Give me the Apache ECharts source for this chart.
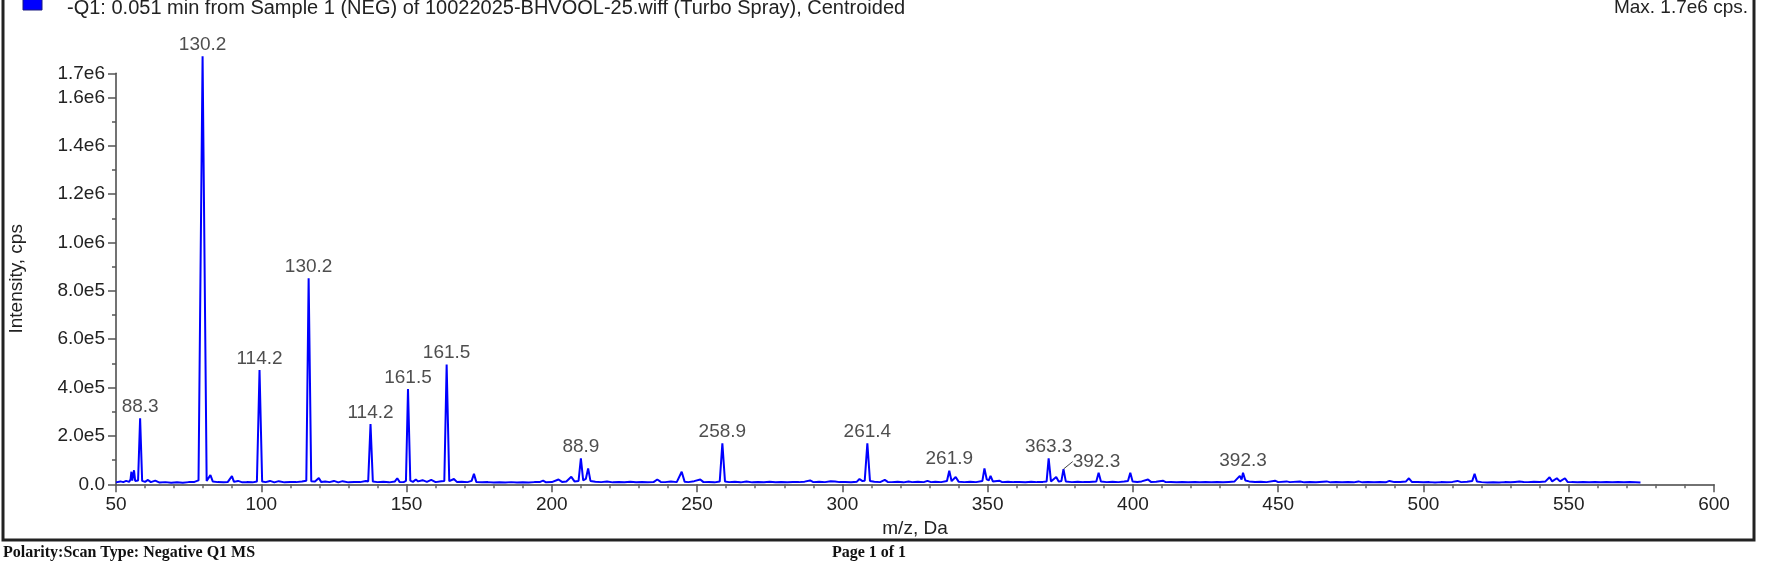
<!DOCTYPE html>
<html><head><meta charset="utf-8">
<script src="https://cdn.jsdelivr.net/npm/echarts@6/dist/echarts.min.js"></script>
<style>html,body{margin:0;padding:0;background:#fff}#c{width:1792px;height:576px}</style>
</head><body><div id="c"></div>
<script>
const titleText = '-Q1: 0.051 min from Sample 1 (NEG) of 10022025-BHVOOL-25.wiff (Turbo Spray), Centroided';
const maxText = 'Max. 1.7e6 cps.';
const xAxisName = 'm/z, Da';
const yAxisName = 'Intensity, cps';
const footerLeft = 'Polarity:Scan Type: Negative Q1 MS';
const footerCenter = 'Page 1 of 1';

const xMin = 50, xMax = 600, xMajor = 50;
const yMin = 0, yMax = 1.7e6, yMajor = 2e5, yMinor = 1e5;

// centroided spectrum: [m/z, intensity cps]
const spectrum = [
[50.0,8000],[51.5,12000],[52.5,9000],[53.5,14000],[54.5,10000],[55.0,20000],[55.3,52000],[55.6,15000],
[56.0,18000],[56.2,58000],[56.6,14000],[57.6,16000],[58.3,273000],[59.0,14000],[60.0,10000],[61.0,18000],
[62.0,9000],[63.5,15000],[65.0,7000],[67.0,9000],[69.0,6000],[71.0,8000],[73.0,6000],[75.0,9000],
[77.0,10000],[78.4,16000],[79.8,1770000],[81.2,14000],[82.5,38000],[83.3,12000],[85.0,9000],[87.0,8000],
[88.5,10000],[89.9,34000],[90.6,10000],[92.0,14000],[93.5,8000],[95.0,9000],[97.0,8000],[98.5,12000],
[99.4,473000],[100.3,12000],[101.5,9000],[103.0,14000],[104.5,8000],[106.0,13000],[108.0,8000],[110.0,10000],
[112.0,9000],[114.0,12000],[115.5,15000],[116.3,852000],[117.2,13000],[118.5,12000],[119.8,26000],[120.6,10000],
[122.0,12000],[123.5,9000],[125.0,14000],[126.5,8000],[128.0,13000],[130.0,8000],[132.0,10000],[134.0,9000],
[136.0,14000],[136.8,12000],[137.6,249000],[138.4,12000],[140.0,9000],[142.0,11000],[144.0,8000],[146.0,12000],
[146.8,25000],[147.6,10000],[149.0,9000],[149.8,14000],[150.5,394000],[151.3,15000],[152.2,10000],[153.2,20000],
[154.0,12000],[155.5,17000],[157.0,10000],[158.5,18000],[160.0,9000],[162.0,13000],[163.0,14000],[163.8,495000],
[164.7,13000],[166.3,22000],[167.3,10000],[169.0,11000],[171.0,9000],[172.4,14000],[173.2,43000],[174.0,10000],
[176.0,8000],[178.0,9000],[180.0,7000],[182.0,8000],[184.0,7000],[186.0,9000],[188.0,7000],[190.0,8000],
[192.0,7000],[194.0,9000],[196.0,10000],[197.0,15000],[198.0,8000],[200.0,9000],[202.3,20000],[203.5,10000],
[205.0,12000],[206.7,31000],[207.8,12000],[209.2,14000],[210.0,107000],[210.8,16000],[211.7,22000],[212.5,66000],
[213.3,14000],[215.0,11000],[217.0,9000],[219.0,12000],[221.0,8000],[223.0,10000],[225.0,8000],[227.0,11000],
[229.0,8000],[231.0,10000],[233.0,8000],[235.0,9000],[236.3,20000],[237.5,10000],[239.0,9000],[241.0,12000],
[243.0,9000],[244.7,52000],[245.7,11000],[247.0,9000],[249.0,13000],[251.1,20000],[252.2,9000],[254.0,10000],
[256.0,8000],[257.8,12000],[258.7,170000],[259.6,12000],[261.0,9000],[263.0,11000],[265.0,8000],[267.0,12000],
[269.0,8000],[271.0,10000],[273.0,8000],[275.0,11000],[277.0,8000],[279.0,10000],[281.0,8000],[283.0,10000],
[285.0,9000],[287.0,11000],[288.9,16000],[290.0,9000],[292.0,11000],[294.0,9000],[296.0,13000],[296.5,16000],
[297.5,12000],[299.0,9000],[301.0,10000],[303.0,8000],[305.0,11000],[305.9,22000],[306.8,14000],[307.7,15000],
[308.6,170000],[309.5,14000],[311.0,11000],[313.0,9000],[314.6,18000],[315.6,10000],[317.0,9000],[319.0,11000],
[321.0,8000],[322.8,12000],[324.0,9000],[326.0,11000],[328.0,9000],[329.3,14000],[330.5,9000],[332.0,11000],
[334.0,9000],[336.0,14000],[336.8,56000],[337.6,13000],[339.0,30000],[340.0,11000],[342.0,9000],[344.0,11000],
[346.0,9000],[348.2,14000],[348.9,66000],[349.7,20000],[350.4,16000],[351.0,35000],[351.8,12000],[354.0,15000],
[355.0,9000],[357.0,11000],[359.0,9000],[361.0,10000],[363.0,8000],[365.0,11000],[367.0,9000],[369.0,10000],
[370.3,12000],[371.0,107000],[371.8,12000],[373.6,30000],[374.5,11000],[375.4,14000],[376.1,63000],[376.9,12000],
[379.0,9000],[381.0,11000],[383.0,9000],[385.0,10000],[387.4,12000],[388.2,48000],[389.0,12000],[391.0,9000],
[393.0,11000],[395.0,9000],[397.0,12000],[398.3,14000],[399.1,48000],[399.9,12000],[401.5,10000],[403.0,12000],
[405.2,20000],[406.2,10000],[408.0,11000],[410.3,15000],[411.3,9000],[413.0,10000],[415.0,8000],[417.0,9000],
[419.0,8000],[421.3,10000],[423.0,8000],[425.0,9000],[427.0,8000],[429.0,10000],[431.0,8000],[433.0,10000],
[435.0,12000],[436.8,35000],[437.4,20000],[437.9,48000],[438.7,16000],[440.0,12000],[442.0,10000],[444.0,11000],
[446.0,9000],[448.9,15000],[450.0,9000],[452.9,12000],[454.0,9000],[457.5,12000],[459.0,8000],[461.0,10000],
[463.0,8000],[466.7,12000],[468.0,8000],[470.0,9000],[472.0,8000],[474.0,10000],[476.0,8000],[477.6,12000],
[479.0,8000],[481.0,9000],[483.0,8000],[485.0,10000],[487.0,8000],[488.3,14000],[490.0,9000],[492.0,10000],
[494.0,12000],[495.0,25000],[496.0,10000],[498.0,9000],[500.0,8000],[502.0,9000],[504.0,7000],[506.0,9000],
[508.0,8000],[510.0,10000],[511.7,14000],[513.0,9000],[515.0,11000],[516.8,14000],[517.6,43000],[518.4,12000],
[520.0,9000],[522.0,7000],[524.0,8000],[526.0,7000],[528.0,9000],[530.0,8000],[531.5,10000],[533.0,12000],
[534.5,10000],[536.0,9000],[538.0,11000],[540.0,10000],[542.0,12000],[543.4,29000],[544.3,12000],[545.9,25000],
[547.0,12000],[548.7,25000],[549.6,10000],[551.0,9000],[553.0,8000],[555.0,9000],[557.0,8000],[559.0,9000],
[561.0,8000],[563.0,10000],[565.0,8000],[567.0,9000],[569.0,8000],[571.0,9000],[573.0,8000],[574.7,7000]
];

const peakMz = [58.3, 79.8, 99.4, 116.3, 137.6, 150.5, 163.8, 210.0, 258.7, 308.6, 336.8, 371.0, 376.1, 437.9];
const peakIntensity = [273000, 1770000, 473000, 852000, 249000, 394000, 495000, 107000, 170000, 170000, 56000, 107000, 63000, 48000];
const peakLabels = ['88.3','130.2','114.2','130.2','114.2','161.5','161.5','88.9','258.9','261.4','261.9','363.3','392.3','392.3'];
const leaderIndex = 12;

const FONT = "'Liberation Sans', Arial, sans-serif";
const chart = echarts.init(document.getElementById('c'), null, {renderer: 'canvas'});

const fmtY = v => {
  const r = Math.round(v);
  if (r === 0) return '0.0';
  if (Math.round(r / yMinor) % 2 === 0 || r === yMax) return r.toExponential(1).replace('e+', 'e');
  return '';
};

chart.setOption({
  animation: false,
  backgroundColor: '#fff',
  grid: {left: 116, right: 78, top: 73.3, bottom: 91.7, outerBoundsMode: 'none', containLabel: false},
  xAxis: {
    type: 'value', min: xMin, max: xMax, interval: xMajor,
    name: xAxisName, nameLocation: 'middle', nameGap: 34,
    nameTextStyle: {fontFamily: FONT, fontSize: 19, color: '#222'},
    axisLine: {show: true, lineStyle: {color: '#444', width: 1.5}},
    axisTick: {show: true, length: 8, lineStyle: {color: '#555', width: 1.5}},
    minorTick: {show: true, splitNumber: 5, length: 4, lineStyle: {color: '#666', width: 1.5}},
    axisLabel: {fontFamily: FONT, fontSize: 19, color: '#222', margin: 11},
    splitLine: {show: false}
  },
  yAxis: [{
    type: 'value', min: yMin, max: yMax, interval: yMinor,
    name: yAxisName, nameLocation: 'middle', nameGap: 90, nameRotate: 90,
    nameTextStyle: {fontFamily: FONT, fontSize: 19, color: '#222'},
    axisLine: {show: true, lineStyle: {color: '#444', width: 1.5}},
    axisTick: {show: true, length: 4, lineStyle: {color: '#555', width: 1.5}},
    axisLabel: {fontFamily: FONT, fontSize: 19, color: '#222', margin: 11, formatter: fmtY},
    splitLine: {show: false}
  }, {
    type: 'value', min: yMin, max: yMax, interval: yMajor, position: 'left',
    axisLine: {show: false},
    axisTick: {show: true, length: 8, lineStyle: {color: '#555', width: 1.5}},
    axisLabel: {show: false},
    splitLine: {show: false}
  }],
  series: [{
    type: 'line', data: spectrum, showSymbol: false, symbol: 'none', clip: false,
    lineStyle: {color: '#0000ff', width: 2}, z: 3
  }, {
    type: 'scatter', symbolSize: 0, clip: false, z: 4,
    data: peakMz.map((m, i) => i === leaderIndex
      ? {value: [m, peakIntensity[i]], labelLine: {show: true, smooth: 0.5, lineStyle: {color: '#444', width: 1}}}
      : {value: [m, peakIntensity[i]]}),
    label: {show: true, position: 'top', distance: 2, fontFamily: FONT, fontSize: 19, color: '#222',
      formatter: p => peakLabels[p.dataIndex]},
    labelLayout: p => p.dataIndex === leaderIndex ? {dx: 33, dy: 4} : {}
  }],
  graphic: [
    {type: 'rect', shape: {x: 3, y: -10, width: 1751, height: 550}, style: {fill: 'none', stroke: '#222', lineWidth: 3}, silent: true},
    {type: 'rect', shape: {x: 23, y: -8, width: 19, height: 18}, style: {fill: '#0000ff', stroke: '#1a1a80', lineWidth: 1}, silent: true},
    {type: 'text', x: 67, y: 8, style: {text: titleText, font: "20px 'Liberation Sans', Arial, sans-serif", fill: '#222', textVerticalAlign: 'middle'}, silent: true},
    {type: 'text', x: 1748, y: 8, style: {text: maxText, font: "19px 'Liberation Sans', Arial, sans-serif", fill: '#222', textAlign: 'right', textVerticalAlign: 'middle'}, silent: true},
    {type: 'text', x: 3, y: 553, style: {text: footerLeft, font: "bold 16px 'Liberation Serif', 'Times New Roman', serif", fill: '#111', textVerticalAlign: 'middle'}, silent: true},
    {type: 'text', x: 869, y: 553, style: {text: footerCenter, font: "bold 16px 'Liberation Serif', 'Times New Roman', serif", fill: '#111', textAlign: 'center', textVerticalAlign: 'middle'}, silent: true}
  ]
});
</script></body></html>
